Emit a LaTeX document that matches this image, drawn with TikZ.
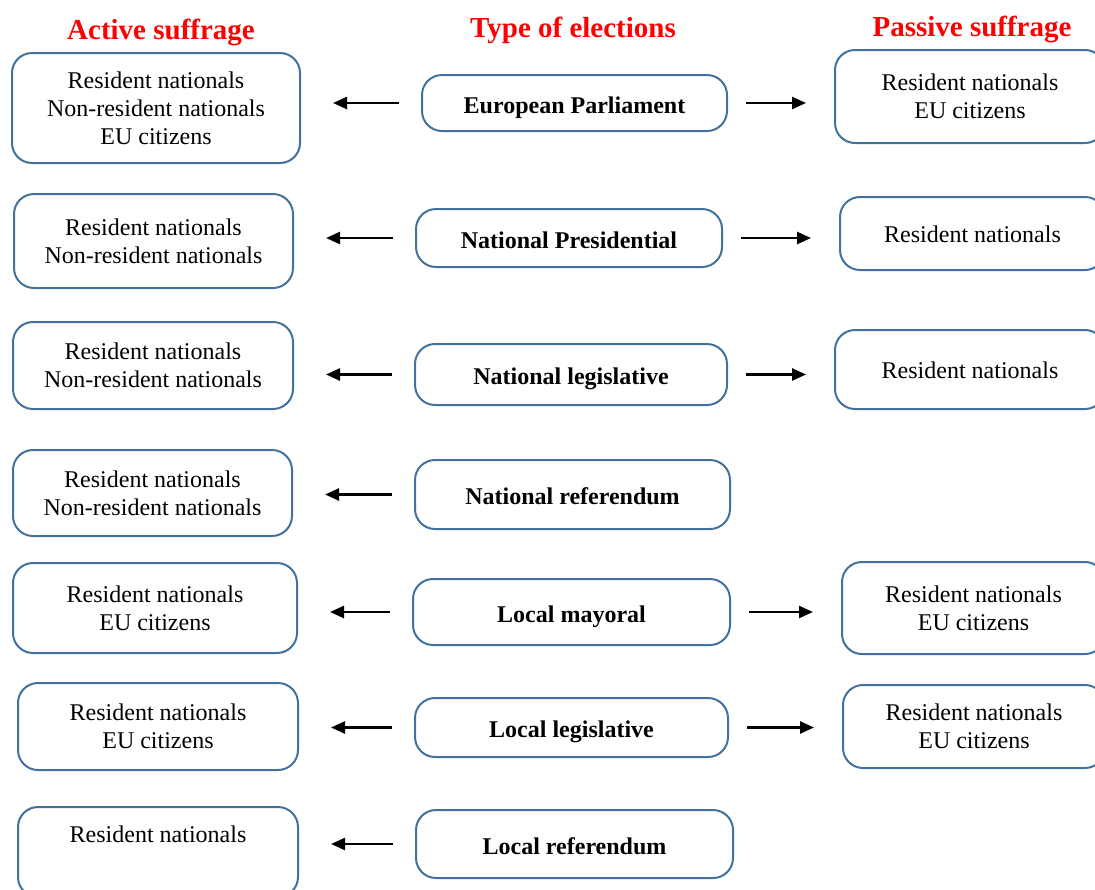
\documentclass[tikz,border=0pt]{standalone}
\usepackage{fontspec}
\setmainfont{Liberation Serif}
\usepackage{xcolor}
\usetikzlibrary{arrows.meta}
\definecolor{boxblue}{RGB}{65,113,156}

\begin{document}
\begin{tikzpicture}[x=0.5pt,y=-0.5pt,>={Triangle[length=7pt,width=6pt]}]
\tikzstyle{every node}=[font=\fontsize{12}{14}\selectfont]
\tikzstyle{box}=[rectangle,rounded corners=10pt,draw=boxblue,line width=1pt,
inner sep=0pt,align=center]
\tikzstyle{typebox}=[box,font=\fontsize{12}{14}\selectfont\bfseries,
text height=10pt,text depth=0pt]
\tikzstyle{head}=[font=\fontsize{14.5}{16}\selectfont\bfseries,text=red]
\tikzstyle{pfeil}=[->,line width=1.25pt,black]
\tikzstyle{left_pfeil}=[pfeil,shorten <=11pt,shorten >=16pt]
\tikzstyle{right_pfeil}=[pfeil,shorten <=9pt,shorten >=14pt]

\useasboundingbox (0,0) rectangle (1095,889);
\clip (0,0) rectangle (1095,889);

\node (head_active) [head] at (161,32) {Active suffrage};
\node (head_type) [head] at (573,30) {Type of elections};
\node (head_passive) [head] at (972,29) {Passive suffrage};

\node (active_1) [box,minimum width=144pt,minimum height=55pt] at (156,108)
{Resident nationals\\Non-resident nationals\\EU citizens};
\node (active_2) [box,minimum width=139.5pt,minimum height=47pt] at (153.5,241)
{Resident nationals\\Non-resident nationals};
\node (active_3) [box,minimum width=140pt,minimum height=43.5pt] at (153,365.5)
{Resident nationals\\Non-resident nationals};
\node (active_4) [box,minimum width=139.5pt,minimum height=43pt] at (152.5,493)
{Resident nationals\\Non-resident nationals};
\node (active_5) [box,minimum width=142pt,minimum height=45pt] at (155,608)
{Resident nationals\\EU citizens};
\node (active_6) [box,minimum width=140pt,minimum height=43.5pt] at (158,726.5)
{Resident nationals\\EU citizens};
\node (active_7) [box,minimum width=140pt,minimum height=45pt] at (158,852)
{Resident nationals\\ \strut};

\node (type_1) [typebox,minimum width=152.5pt,minimum height=28pt]
at (574.5,103) {European Parliament};
\node (type_2) [typebox,minimum width=153pt,minimum height=29pt]
at (569,238) {National Presidential};
\node (type_3) [typebox,minimum width=156pt,minimum height=30.5pt]
at (571,374.5) {National legislative};
\node (type_4) [typebox,minimum width=157.5pt,minimum height=34.5pt]
at (572.5,494.5) {National referendum};
\node (type_5) [typebox,minimum width=158.5pt,minimum height=33pt]
at (571.5,612) {Local mayoral};
\node (type_6) [typebox,minimum width=156.5pt,minimum height=29.5pt]
at (571.5,727.5) {Local legislative};
\node (type_7) [typebox,minimum width=158.5pt,minimum height=34pt]
at (574.5,844) {Local referendum};

\node (passive_1) [box,minimum width=135pt,minimum height=46.5pt] at (970,96.5)
{Resident nationals\\EU citizens};
\node (passive_2) [box,minimum width=132.5pt,minimum height=36.5pt,
text height=9pt,text depth=0pt] at (972.5,233.5) {Resident nationals};
\node (passive_3) [box,minimum width=135pt,minimum height=39.5pt,
text height=9pt,text depth=0pt] at (970,369.5) {Resident nationals};
\node (passive_5) [box,minimum width=131.5pt,minimum height=46pt] at (973.5,608)
{Resident nationals\\EU citizens};
\node (passive_6) [box,minimum width=131pt,minimum height=41.5pt] at (974,726.5)
{Resident nationals\\EU citizens};

\draw[left_pfeil] (type_1.west) -- (type_1.west -| active_1.east);
\draw[left_pfeil] (type_2.west) -- (type_2.west -| active_2.east);
\draw[left_pfeil] (type_3.west) -- (type_3.west -| active_3.east);
\draw[left_pfeil] (type_4.west) -- (type_4.west -| active_4.east);
\draw[left_pfeil] (type_5.west) -- (type_5.west -| active_5.east);
\draw[left_pfeil] (type_6.west) -- (type_6.west -| active_6.east);
\draw[left_pfeil] (type_7.west) -- (type_7.west -| active_7.east);

\draw[right_pfeil] (type_1.east) -- (type_1.east -| passive_1.west);
\draw[right_pfeil] (type_2.east) -- (type_2.east -| passive_2.west);
\draw[right_pfeil] (type_3.east) -- (type_3.east -| passive_3.west);
\draw[right_pfeil] (type_5.east) -- (type_5.east -| passive_5.west);
\draw[right_pfeil] (type_6.east) -- (type_6.east -| passive_6.west);

\end{tikzpicture}
\end{document}
